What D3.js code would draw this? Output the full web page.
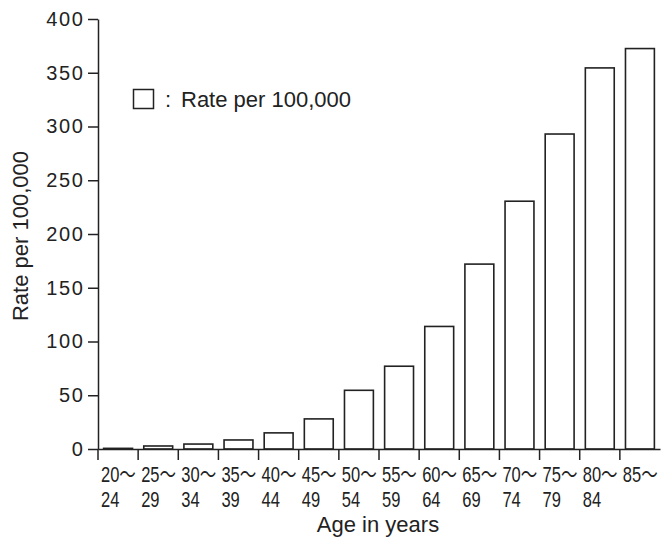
<!DOCTYPE html>
<html>
<head>
<meta charset="utf-8">
<script src="https://cdn.jsdelivr.net/npm/d3@7"></script>
<style>
  body { margin: 0; background: #fff; }
  svg text { font-family: "Liberation Sans", Arial, sans-serif; fill: #222; }
</style>
</head>
<body>
<svg id="chart" width="663" height="538"></svg>
<script>
// age groups (x categories)
var ageGroups = ["20～24", "25～29", "30～34", "35～39", "40～44", "45～49", "50～54",
                 "55～59", "60～64", "65～69", "70～74", "75～79", "80～84", "85～"];
// rate per 100,000
var rates = [0.6, 2.8, 4.6, 8.4, 15, 28, 54.6, 77, 114, 172, 230.5, 293, 354.5, 372.5];
var yTicks = [0, 50, 100, 150, 200, 250, 300, 350, 400];

var data = ageGroups.map(function(a, i) { return {age: a, rate: rates[i]}; });

var svg = d3.select("#chart");

var plotLeft = 98, plotRight = 660, plotTop = 19, plotBottom = 449;

var x = d3.scaleBand().domain(ageGroups).range([plotLeft, plotRight]).padding(0);
var y = d3.scaleLinear().domain([0, 400]).range([plotBottom, plotTop]);

var barPad = 0.14;

// bars
svg.selectAll(".bar")
  .data(data)
  .enter().append("rect")
  .attr("class", "bar")
  .attr("x", function(d) { return x(d.age) + x.step() * barPad; })
  .attr("y", function(d) { return y(d.rate); })
  .attr("width", x.step() * (1 - 2 * barPad))
  .attr("height", function(d) { return plotBottom - y(d.rate); })
  .attr("fill", "#fff")
  .attr("stroke", "#222")
  .attr("stroke-width", 1.6);

// y axis
var yAxis = svg.append("g")
  .attr("transform", "translate(" + plotLeft + ",0)")
  .call(d3.axisLeft(y).tickValues(yTicks).tickSize(10).tickSizeOuter(0).tickPadding(3.5));
yAxis.selectAll("text")
  .attr("font-size", "20px")
  .attr("letter-spacing", "1.6px")
  .attr("font-family", null);
yAxis.selectAll("line, path").attr("stroke", "#222").attr("stroke-width", 1.5);

// x axis, ticks on band boundaries
var xAxis = svg.append("g")
  .attr("transform", "translate(0," + plotBottom + ")")
  .call(d3.axisBottom(x).tickSize(11).tickSizeOuter(0).tickFormat(""));
xAxis.selectAll(".tick").attr("transform", function(d) { return "translate(" + x(d) + ",0)"; });
xAxis.selectAll("line, path").attr("stroke", "#222").attr("stroke-width", 1.5);

// two-line x labels
var lab = svg.selectAll(".xlab")
  .data(ageGroups)
  .enter().append("g")
  .attr("class", "xlab")
  .attr("transform", function(d) { return "translate(" + (x(d) + 3) + ",0) scale(0.75,1)"; });
var line1 = lab.append("text")
  .attr("y", 482)
  .attr("font-size", "22px");
line1.append("tspan").text(function(d) { return d.split("～")[0]; });
line1.append("tspan")
  .style("font-family", "'Noto Sans CJK JP', sans-serif")
  .text("～");
lab.append("text")
  .attr("y", 507)
  .attr("font-size", "22px")
  .text(function(d) { return d.split("～")[1]; });

// axis titles
svg.append("text")
  .attr("x", 378)
  .attr("y", 532)
  .attr("text-anchor", "middle")
  .attr("font-size", "22px")
  .text("Age in years");

svg.append("text")
  .attr("transform", "rotate(-90)")
  .attr("x", -236)
  .attr("y", 28)
  .attr("text-anchor", "middle")
  .attr("font-size", "22px")
  .text("Rate per 100,000");

// legend
svg.append("rect")
  .attr("x", 133.5).attr("y", 89.5)
  .attr("width", 20).attr("height", 19)
  .attr("fill", "#fff").attr("stroke", "#222").attr("stroke-width", 1.5);
svg.append("text")
  .attr("x", 165).attr("y", 107)
  .attr("font-size", "22px")
  .text(":");
svg.append("text")
  .attr("x", 181).attr("y", 107)
  .attr("font-size", "22px")
  .text("Rate per 100,000");
</script>
</body>
</html>
